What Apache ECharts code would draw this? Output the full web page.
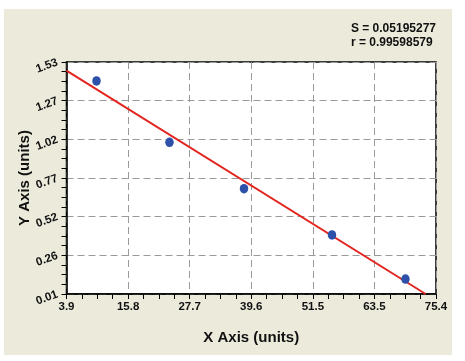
<!DOCTYPE html>
<html><head><meta charset="utf-8">
<script src="https://cdn.jsdelivr.net/npm/echarts@6/dist/echarts.min.js"></script>
<style>
html,body{margin:0;padding:0;background:#fff;width:465px;height:361px;overflow:hidden}
#bg{position:absolute;left:4px;top:9px;width:448px;height:346px;background:#ebeadb}
#c{position:absolute;left:0;top:0;width:465px;height:361px}
</style></head>
<body><div id="bg"></div><div id="c"></div>
<script>
const xTickLabels = ['3.9','15.8','27.7','39.6','51.5','63.5','75.4'];
const yTickLabels = ['0.01','0.26','0.52','0.77','1.02','1.27','1.53'];
const pointX = [9.7, 23.8, 38.2, 55.2, 69.4];
const pointY = [1.406, 1.004, 0.70, 0.397, 0.108];
const fitX = [3.9, 73.3];
const fitY = [1.473, 0.01];
const statS = 'S = 0.05195277';
const statR = 'r = 0.99598579';

const xMin = 3.9, xStep = 11.9, xMax = xMin + 6 * xStep;
const yMin = 0.01, yMax = 1.53, yStep = (yMax - yMin) / 6;
const font = 'Liberation Sans';

const chart = echarts.init(document.getElementById('c'), null, {renderer: 'canvas'});
chart.setOption({
  animation: false,
  grid: {left: 66.5, right: 29, top: 62, bottom: 67, show: true, backgroundColor: '#fff', borderColor: '#000', borderWidth: 1.5},
  graphic: [
    {type: 'text', right: 29, top: 22, style: {text: statS + '\n' + statR, align: 'right', font: 'bold 12px ' + font, fill: '#111', lineHeight: 13.5}}
  ],
  xAxis: {
    type: 'value', min: xMin, max: xMax, interval: xStep,
    name: 'X Axis (units)', nameLocation: 'middle', nameGap: 36, nameMoveOverlap: false,
    nameTextStyle: {fontFamily: font, fontWeight: 'bold', fontSize: 15, color: '#111'},
    axisLine: {show: true, lineStyle: {color: '#000', width: 1.5}},
    axisTick: {show: true, length: 5, lineStyle: {color: '#000'}},
    minorTick: {show: true, splitNumber: 4, length: 5, lineStyle: {color: '#000'}},
    axisLabel: {fontFamily: font, fontWeight: 'bold', fontSize: 11.5, color: '#111', margin: 7,
      formatter: (v, i) => xTickLabels[Math.round((v - xMin) / xStep)]},
    splitLine: {show: true, lineStyle: {color: '#9a9a9a', type: [7, 4], width: 1}}
  },
  yAxis: {
    type: 'value', min: yMin, max: yMax, interval: yStep,
    name: 'Y Axis (units)', nameLocation: 'middle', nameGap: 34, nameRotate: 90, nameMoveOverlap: false,
    nameTextStyle: {fontFamily: font, fontWeight: 'bold', fontSize: 15, color: '#111'},
    axisLine: {show: true, lineStyle: {color: '#000', width: 1.5}},
    axisTick: {show: true, length: 5, lineStyle: {color: '#000'}},
    minorTick: {show: true, splitNumber: 4, length: 5, lineStyle: {color: '#000'}},
    axisLabel: {fontFamily: font, fontWeight: 'bold', fontSize: 11.5, color: '#111', rotate: 20, margin: 9,
      formatter: (v) => yTickLabels[Math.round((v - yMin) / yStep)]},
    splitLine: {show: true, lineStyle: {color: '#9a9a9a', type: [7, 4], width: 1}}
  },
  series: [
    {type: 'line', data: fitX.map((x, i) => [x, fitY[i]]), symbol: 'none', lineStyle: {color: '#e3251f', width: 2}, z: 2},
    {type: 'scatter', data: pointX.map((x, i) => [x, pointY[i]]), symbol: 'circle', symbolSize: [8.5, 9.5], itemStyle: {color: '#2d50a8', opacity: 1}, z: 3}
  ]
});
</script></body></html>
